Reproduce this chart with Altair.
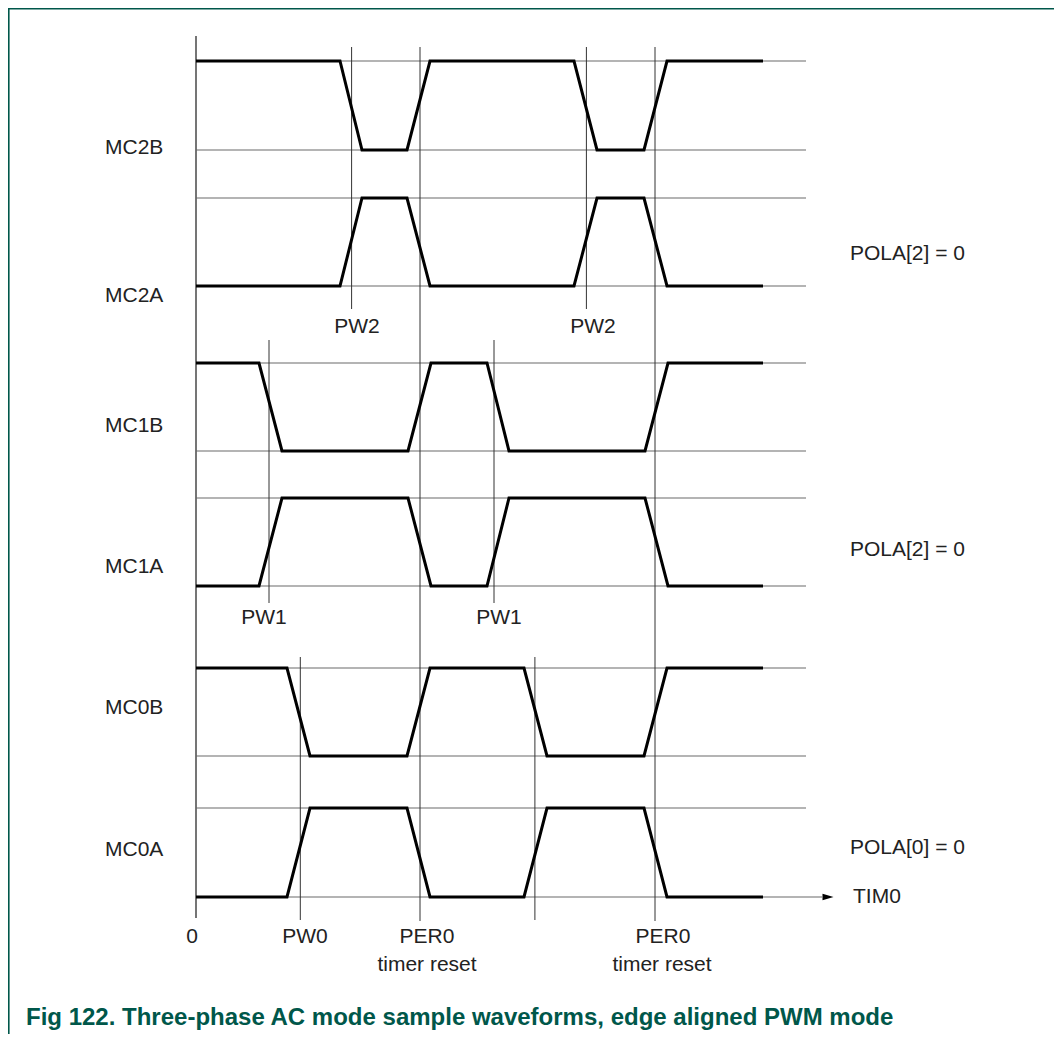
import altair as alt
import pandas as pd

# ---------------- data ----------------
channels = ["MC2B", "MC2A", "MC1B", "MC1A", "MC0B", "MC0A"]
start_level = [1, 0, 1, 0, 1, 0]
# transition (start, end) pairs in timer units, t = 0 at the origin
edges_mc2 = [144, 166, 211, 234, 378, 401, 448, 471]
edges_mc1 = [63, 86, 212, 235, 291, 313, 449, 472]
edges_mc0 = [91, 114, 211, 234, 328, 351, 448, 471]
t_end = 567
t_grid_end = 610
t_axis_end = 630

pw2_marks = [155.6, 390.4]
pw1_marks = [73, 298]
pw0_marks = [104.3, 338.9]
per0_marks = [224, 459]

pola_labels = ["POLA[2] = 0", "POLA[2] = 0", "POLA[0] = 0"]
title_text = "Fig 122. Three-phase AC mode sample waveforms, edge aligned PWM mode"

# ---------------- layout ----------------
W, H = 1046, 1026
X0 = 196  # page x of t = 0
row_y = {  # (high, low) page y
    "MC2B": (61, 150), "MC2A": (198, 286),
    "MC1B": (363, 451), "MC1A": (498, 586),
    "MC0B": (668, 756), "MC0A": (808, 897),
}
edge_map = {"MC2": edges_mc2, "MC1": edges_mc1, "MC0": edges_mc0}

xs = alt.Scale(domain=[8 - X0, 8 + W - X0], nice=False, zero=False)
ys = alt.Scale(domain=[8, 8 + H], reverse=True, nice=False, zero=False)

FONT = "Liberation Sans"
TXT = "#222222"
GREEN = "#00574a"

# waveforms
wrows = []
for ch, lvl in zip(channels, start_level):
    e = edge_map[ch[:3]]
    pts = [(0, lvl)]
    for i in range(0, len(e), 2):
        pts.append((e[i], lvl))
        lvl = 1 - lvl
        pts.append((e[i + 1], lvl))
    pts.append((t_end, lvl))
    hi, lo = row_y[ch]
    for k, (t, l) in enumerate(pts):
        wrows.append(dict(ch=ch, k=k, t=t, y=lo - l * (lo - hi)))
wave = pd.DataFrame(wrows)

# level grid lines
grows = []
for ch in channels:
    hi, lo = row_y[ch]
    grows.append(dict(t=0, t2=t_grid_end, y=hi))
    grows.append(dict(t=0, t2=t_axis_end - 4 if ch == "MC0A" else t_grid_end, y=lo))
grid = pd.DataFrame(grows)

# vertical marker lines
vrows = []
for t in pw2_marks:
    vrows.append(dict(t=t, y=47, y2=309))
for t in pw1_marks:
    vrows.append(dict(t=t, y=340, y2=603))
for t in pw0_marks:
    vrows.append(dict(t=t, y=657, y2=920))
for t in per0_marks:
    vrows.append(dict(t=t, y=47, y2=921))
vlines = pd.DataFrame(vrows)

axis_df = pd.DataFrame([dict(t=0, y=36, y2=918)])
arrow_df = pd.DataFrame([dict(t=t_axis_end + 2, y=row_y["MC0A"][1])])

# text labels
trows = []
for ch, yy in zip(channels, [148, 296, 426, 567, 708, 850]):
    trows.append(dict(s=ch, t=105 - X0, y=yy, a="left"))
for s, yy in zip(pola_labels, [254, 550, 848]):
    trows.append(dict(s=s, t=850 - X0, y=yy, a="left"))
trows.append(dict(s="TIM0", t=853 - X0, y=897, a="left"))
ctr = [
    ("PW2", 357, 327), ("PW2", 593, 327),
    ("PW1", 264, 618), ("PW1", 499, 618),
    ("0", 192, 937), ("PW0", 305, 937),
    ("PER0", 427, 937), ("PER0", 663, 937),
    ("timer reset", 427, 965), ("timer reset", 662, 965),
]
for s, x, yy in ctr:
    trows.append(dict(s=s, t=x - X0, y=yy, a="center"))
texts = pd.DataFrame(trows)

X = lambda f="t": alt.X(f + ":Q", scale=xs, axis=None)
Y = lambda f="y": alt.Y(f + ":Q", scale=ys, axis=None)

grid_layer = alt.Chart(grid).mark_rule(color="#6a6a6a", strokeWidth=1.1).encode(
    x=X(), x2="t2:Q", y=Y())
v_layer = alt.Chart(vlines).mark_rule(color="#333333", strokeWidth=1).encode(
    x=X(), y=Y(), y2="y2:Q")
axis_layer = alt.Chart(axis_df).mark_rule(color="#666666", strokeWidth=1.8).encode(
    x=X(), y=Y(), y2="y2:Q")
wave_layer = alt.Chart(wave).mark_line(color="#000000", strokeWidth=3, strokeJoin="miter").encode(
    x=X(), y=Y(), detail="ch:N", order="k:Q")
arrow_layer = alt.Chart(arrow_df).mark_point(
    shape="M-1,-0.6L1,0L-1,0.6Z", size=120, filled=True, color="#000000", opacity=1
).encode(x=X(), y=Y())

left_txt = alt.Chart(texts[texts.a == "left"]).mark_text(
    align="left", baseline="middle", font=FONT, fontSize=21, color=TXT
).encode(x=X(), y=Y(), text="s:N")
ctr_txt = alt.Chart(texts[texts.a == "center"]).mark_text(
    align="center", baseline="middle", font=FONT, fontSize=21, color=TXT
).encode(x=X(), y=Y(), text="s:N")
title_layer = alt.Chart(pd.DataFrame([dict(s=title_text, t=26 - X0, y=1018)])).mark_text(
    align="left", baseline="middle", font=FONT, fontSize=24, fontWeight="bold", color=GREEN
).encode(x=X(), y=Y(), text="s:N")

frame_left = alt.Chart(pd.DataFrame([dict(a=0)])).mark_rule(color=GREEN, strokeWidth=1.6).encode(
    x=alt.value(0.8), y=alt.value(0), y2=alt.value(H))
frame_top = alt.Chart(pd.DataFrame([dict(a=0)])).mark_rule(color=GREEN, strokeWidth=1.6).encode(
    x=alt.value(0), x2=alt.value(W), y=alt.value(0.8))

chart = alt.layer(
    frame_left, frame_top, grid_layer, v_layer, axis_layer, wave_layer, arrow_layer,
    left_txt, ctr_txt, title_layer,
).properties(
    width=W, height=H, padding=0, autosize=alt.AutoSizeParams(type="none"),
    background="white",
).configure_view(stroke=None)

chart.save("out.html", embed_options={"renderer": "svg", "actions": False})
